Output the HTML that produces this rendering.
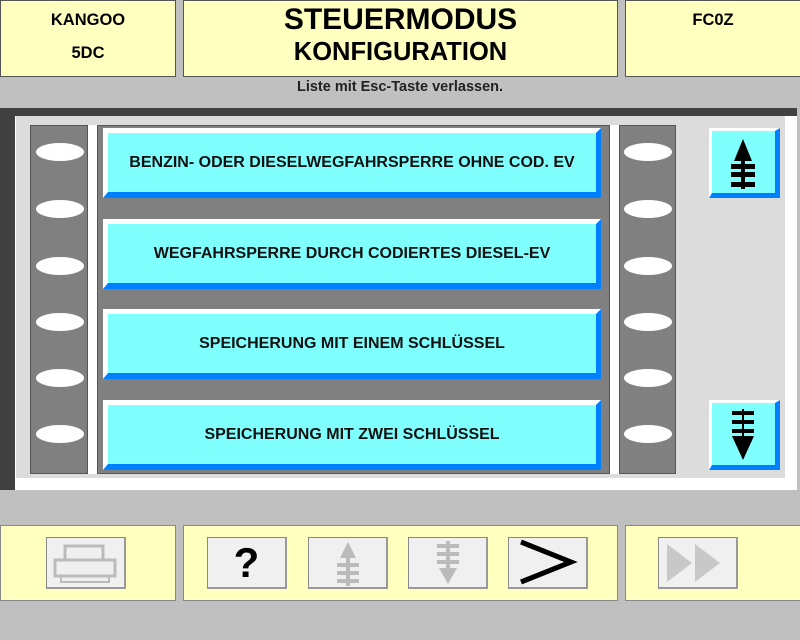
<!DOCTYPE html>
<html><head><style>
*{margin:0;padding:0;box-sizing:border-box}
body{width:800px;height:640px;background:#c0c0c0;position:relative;overflow:hidden;font-family:"Liberation Sans",Arial,sans-serif;font-weight:bold}
.a{position:absolute}
.y{background:#ffffc0;border:1px solid #555}
.btn{position:absolute;left:103px;width:498px;height:70px;background:#80ffff;border:1px solid #444;border-top:5px solid #fff;border-left:5px solid #fff;border-right:5px solid #0080ff;border-bottom:6px solid #0080ff;display:flex;align-items:center;justify-content:center;font-size:16px;color:#111}
.el{position:absolute;width:48px;height:18px;background:#fff;border-radius:50%}
.sb{position:absolute;left:709px;width:71px;height:70px;background:#80ffff;border-top:3px solid #fff;border-left:3px solid #fff;border-right:5px solid #0080ff;border-bottom:5px solid #0080ff}
.gb{position:absolute;top:537px;width:80px;height:52px;background:#f0f0f0;border:1px solid #888;border-right:2px solid #999;border-bottom:2px solid #999}
</style></head><body>
<div class="a y" style="left:0;top:0;width:176px;height:77px"></div>
<div class="a" style="left:0;top:11px;width:176px;text-align:center;font-size:16.5px">KANGOO</div>
<div class="a" style="left:0;top:44px;width:176px;text-align:center;font-size:16.5px">5DC</div>
<div class="a y" style="left:183px;top:0;width:435px;height:77px"></div>
<div class="a" style="left:183px;top:3px;width:435px;text-align:center;font-size:30px">STEUERMODUS</div>
<div class="a" style="left:183px;top:38px;width:435px;text-align:center;font-size:25.5px">KONFIGURATION</div>
<div class="a y" style="left:625px;top:0;width:176px;height:77px"></div>
<div class="a" style="left:625px;top:11px;width:176px;text-align:center;font-size:16.5px">FC0Z</div>
<div class="a" style="left:0;top:79px;width:800px;text-align:center;font-size:14.5px;color:#222">Liste mit Esc-Taste verlassen.</div>

<div class="a" style="left:0;top:108px;width:797px;height:382px;background:#404040"></div>
<div class="a" style="left:15px;top:116px;width:782px;height:374px;background:#fff"></div>
<div class="a" style="left:16px;top:116px;width:769px;height:362px;background:#dcdcdc"></div>
<div class="a" style="left:30px;top:125px;width:58px;height:349px;background:#808080;border:1px solid #555"></div>
<div class="a" style="left:88px;top:125px;width:9px;height:349px;background:#fff"></div>
<div class="a" style="left:97px;top:125px;width:513px;height:349px;background:#808080;border:1px solid #555"></div>
<div class="a" style="left:610px;top:125px;width:9px;height:349px;background:#fff"></div>
<div class="a" style="left:619px;top:125px;width:57px;height:349px;background:#808080;border:1px solid #555"></div>

<div class="el" style="left:36px;top:143px"></div><div class="el" style="left:36px;top:200px"></div><div class="el" style="left:36px;top:257px"></div><div class="el" style="left:36px;top:313px"></div><div class="el" style="left:36px;top:369px"></div><div class="el" style="left:36px;top:425px"></div>
<div class="el" style="left:624px;top:143px"></div><div class="el" style="left:624px;top:200px"></div><div class="el" style="left:624px;top:257px"></div><div class="el" style="left:624px;top:313px"></div><div class="el" style="left:624px;top:369px"></div><div class="el" style="left:624px;top:425px"></div>

<div class="btn" style="top:128px">BENZIN- ODER DIESELWEGFAHRSPERRE OHNE COD. EV</div>
<div class="btn" style="top:219px">WEGFAHRSPERRE DURCH CODIERTES DIESEL-EV</div>
<div class="btn" style="top:309px">SPEICHERUNG MIT EINEM SCHLÜSSEL</div>
<div class="btn" style="top:400px">SPEICHERUNG MIT ZWEI SCHLÜSSEL</div>

<div class="sb" style="top:128px"><svg width="63" height="62"><polygon points="31,8 22,30 40,30" fill="#000"/><rect x="29" y="28" width="4" height="30" fill="#000"/><rect x="19" y="33" width="24" height="5" fill="#000"/><rect x="19" y="41" width="24" height="5" fill="#000"/><rect x="19" y="51" width="24" height="5" fill="#000"/></svg></div>
<div class="sb" style="top:400px"><svg width="63" height="62"><rect x="30" y="6" width="2" height="34" fill="#000"/><rect x="20" y="8" width="22" height="4" fill="#000"/><rect x="20" y="17" width="22" height="4" fill="#000"/><rect x="20" y="26" width="22" height="4" fill="#000"/><polygon points="20,33 42,33 31,57" fill="#000"/></svg></div>

<div class="a y" style="left:0;top:525px;width:176px;height:76px;border-color:#888"></div>
<div class="a y" style="left:183px;top:525px;width:435px;height:76px;border-color:#888"></div>
<div class="a y" style="left:625px;top:525px;width:176px;height:76px;border-color:#888"></div>

<div class="gb" style="left:46px"><svg width="78" height="50"><rect x="8" y="22" width="60" height="16" fill="none" stroke="#bbb" stroke-width="3"/><rect x="18" y="8" width="38" height="14" fill="none" stroke="#bbb" stroke-width="3"/><rect x="14" y="38" width="48" height="6" fill="none" stroke="#bbb" stroke-width="2"/></svg></div>
<div class="gb" style="left:207px;font-size:42px;text-align:center;line-height:50px;font-weight:bold;color:#000">?</div>
<div class="gb" style="left:308px"><svg width="78" height="50"><polygon points="39,4 31,20 47,20" fill="#bbb"/><rect x="37" y="18" width="4" height="30" fill="#bbb"/><rect x="28" y="25" width="22" height="4" fill="#bbb"/><rect x="28" y="33" width="22" height="4" fill="#bbb"/><rect x="28" y="41" width="22" height="4" fill="#bbb"/></svg></div>
<div class="gb" style="left:408px"><svg width="78" height="50"><rect x="37" y="3" width="4" height="30" fill="#bbb"/><rect x="28" y="6" width="22" height="4" fill="#bbb"/><rect x="28" y="14" width="22" height="4" fill="#bbb"/><rect x="28" y="22" width="22" height="4" fill="#bbb"/><polygon points="30,30 48,30 39,46" fill="#bbb"/></svg></div>
<div class="gb" style="left:508px"><svg width="78" height="50"><polyline points="12,4 62,24 12,44" fill="none" stroke="#000" stroke-width="5"/></svg></div>
<div class="gb" style="left:658px"><svg width="78" height="50"><polygon points="8,6 33,25 8,44" fill="#c8c8c8"/><polygon points="36,6 61,25 36,44" fill="#c8c8c8"/></svg></div>
</body></html>
